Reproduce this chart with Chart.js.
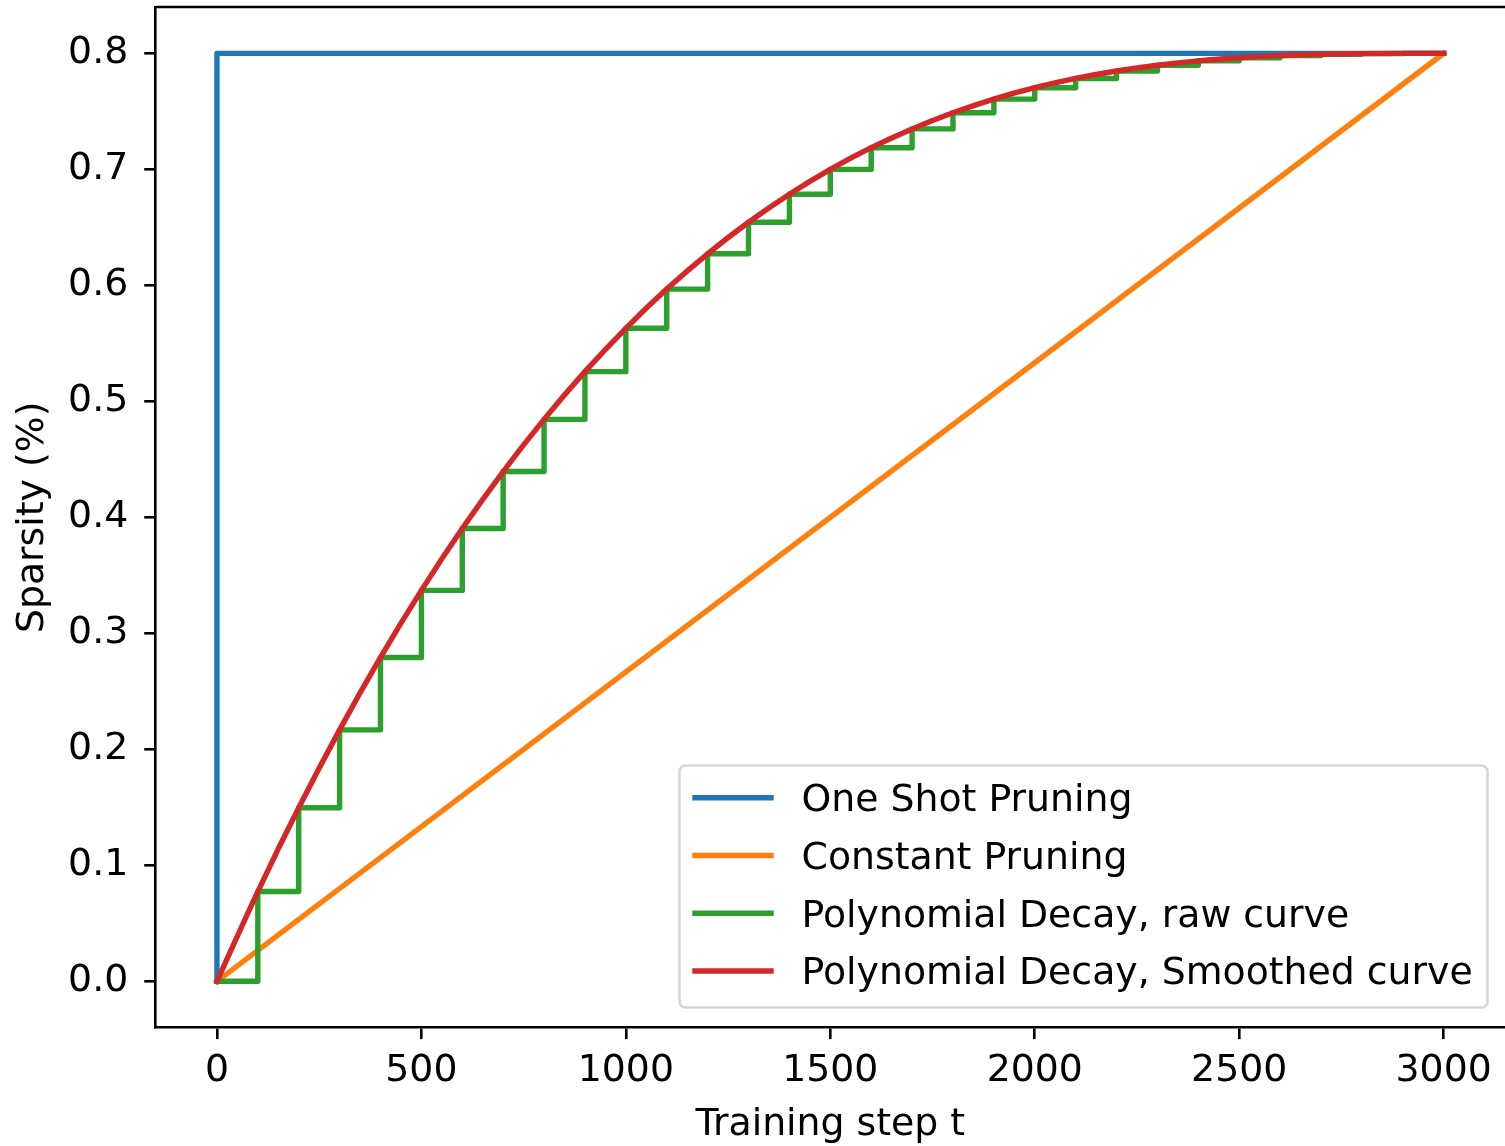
<!DOCTYPE html>
<html>
<head>
<meta charset="utf-8">
<title>Sparsity schedules</title>
<script src="https://cdn.jsdelivr.net/npm/chart.js@4.4.1/dist/chart.umd.min.js"></script>
<style>
    html, body { margin: 0; padding: 0; background: #fff; overflow: hidden; }
    #chart { display: block; }
</style>
</head>
<body>
<canvas id="chart" width="1505" height="1146"></canvas>
<script>
// training steps (every 100) and the sparsity
const steps = [0, 100, 200, 300, 400, 500, 600, 700, 800, 900, 1000,
    1100, 1200, 1300, 1400, 1500, 1600, 1700, 1800, 1900, 2000,
    2100, 2200, 2300, 2400, 2500, 2600, 2700, 2800, 2900, 3000];
const polyValues = [0, 0.0774, 0.1496, 0.2168, 0.2792, 0.3370, 0.3904, 0.4395, 0.4845, 0.5256, 0.5630,
    0.5968, 0.6272, 0.6544, 0.6786, 0.7000, 0.7187, 0.7349, 0.7488, 0.7606, 0.7704,
    0.7784, 0.7848, 0.7898, 0.7936, 0.7963, 0.7981, 0.7992, 0.7998, 0.8000, 0.8000];
const oneShotX = [0, 0, 3000];
const oneShotY = [0, 0.8, 0.8];
const constantX = [0, 3000];
const constantY = [0, 0.8];

const xTicks = [0, 500, 1000, 1500, 2000, 2500, 3000];
const yTicks = [0, 0.1, 0.2, 0.3, 0.4, 0.5, 0.6, 0.7, 0.8];

const labels = ['One Shot Pruning', 'Constant Pruning', 'Polynomial Decay, raw curve', 'Polynomial Decay, Smoothed curve'];
const colors = ['#1f77b4', '#ff7f0e', '#2ca02c', '#d62728'];

const FONT = 'DejaVu Sans';
const FS = 37.8;
const LW = 5.4;

function toPoints(xs, ys) {
    return xs.map(function (x, i) { return { x: x, y: ys[i] }; });
}

// no automatic label padding, the plot box is fixed
function noPadding(scale) {
    scale.paddingTop = 0;
    scale.paddingBottom = 0;
    scale.paddingLeft = 0;
    scale.paddingRight = 0;
}

// matplotlib-like legend in the lower right corner + top spine
// (the right spine falls just outside the picture)
const framePlugin = {
    id: 'frame',
    afterDatasetsDraw: function (chart) {
        const ctx = chart.ctx;
        const a = chart.chartArea;
        ctx.save();
        ctx.strokeStyle = '#000';
        ctx.lineWidth = 2.6;
        ctx.beginPath();
        ctx.moveTo(a.left, a.top);
        ctx.lineTo(chart.width, a.top);
        ctx.stroke();

        // legend box
        const bx = 679.5, by = 765.5, bw = 808, bh = 242;
        ctx.beginPath();
        ctx.roundRect(bx, by, bw, bh, 6);
        ctx.fillStyle = 'rgba(255,255,255,0.8)';
        ctx.fill();
        ctx.strokeStyle = 'rgba(204,204,204,0.8)';
        ctx.lineWidth = 2.6;
        ctx.stroke();

        ctx.font = FS + 'px "' + FONT + '"';
        ctx.textBaseline = 'alphabetic';
        ctx.textAlign = 'left';
        labels.forEach(function (txt, i) {
            const y = 797.7 + i * 57.75;
            ctx.beginPath();
            ctx.strokeStyle = colors[i];
            ctx.lineWidth = LW;
            ctx.lineCap = 'square';
            ctx.moveTo(695, y);
            ctx.lineTo(771, y);
            ctx.stroke();
            ctx.fillStyle = '#000';
            ctx.fillText(txt, 801.5, y + 13.5);
        });
        ctx.restore();
    }
};

new Chart(document.getElementById('chart'), {
    type: 'line',
    data: {
        datasets: [
            {
                label: labels[0],
                data: toPoints(oneShotX, oneShotY),
                borderColor: colors[0],
                order: 4
            },
            {
                label: labels[1],
                data: toPoints(constantX, constantY),
                borderColor: colors[1],
                order: 3
            },
            {
                label: labels[2],
                data: toPoints(steps, polyValues),
                borderColor: colors[2],
                stepped: 'before',
                order: 2
            },
            {
                label: labels[3],
                data: toPoints(steps, polyValues),
                borderColor: colors[3],
                cubicInterpolationMode: 'monotone',
                order: 1
            }
        ]
    },
    options: {
        responsive: false,
        animation: false,
        events: [],
        layout: { autoPadding: false, padding: { top: 7, right: -1.5, bottom: 0, left: 0 } },
        elements: {
            point: { radius: 0 },
            line: {
                borderWidth: LW,
                fill: false,
                tension: 0,
                borderCapStyle: 'square',
                borderJoinStyle: 'round'
            }
        },
        plugins: {
            legend: { display: false },
            tooltip: { enabled: false }
        },
        scales: {
            x: {
                type: 'linear',
                min: -150,
                max: 3150,
                afterBuildTicks: function (scale) {
                    scale.ticks = xTicks.map(function (v) { return { value: v }; });
                },
                afterFit: function (scale) {
                    scale.height = 118.3;
                    noPadding(scale);
                },
                grid: {
                    display: true,
                    drawOnChartArea: false,
                    drawTicks: true,
                    tickLength: 11.4,
                    tickWidth: 2.6,
                    tickColor: '#000',
                    color: '#000',
                    lineWidth: 2.6
                },
                border: { display: true, color: '#000', width: 2.6 },
                ticks: {
                    color: '#000',
                    padding: 9,
                    maxRotation: 0,
                    font: { family: FONT, size: FS },
                    callback: function (v) { return String(v); }
                },
                title: {
                    display: true,
                    text: 'Training step t',
                    color: '#000',
                    font: { family: FONT, size: FS, lineHeight: 1 },
                    padding: { top: 0, bottom: 2 }
                }
            },
            y: {
                type: 'linear',
                min: -0.04,
                max: 0.84,
                afterBuildTicks: function (scale) {
                    scale.ticks = yTicks.map(function (v) { return { value: v }; });
                },
                afterFit: function (scale) {
                    scale.width = 155.6;
                    noPadding(scale);
                },
                grid: {
                    display: true,
                    drawOnChartArea: false,
                    drawTicks: true,
                    tickLength: 11.4,
                    tickWidth: 2.6,
                    tickColor: '#000',
                    color: '#000',
                    lineWidth: 2.6
                },
                border: { display: true, color: '#000', width: 2.6 },
                ticks: {
                    color: '#000',
                    padding: 16,
                    font: { family: FONT, size: FS },
                    callback: function (v) { return Number(v).toFixed(1); }
                },
                title: {
                    display: true,
                    text: 'Sparsity (%)',
                    color: '#000',
                    font: { family: FONT, size: FS, lineHeight: 1 },
                    padding: { top: 14.5, bottom: 0 }
                }
            }
        }
    },
    plugins: [framePlugin]
});
</script>
</body>
</html>
